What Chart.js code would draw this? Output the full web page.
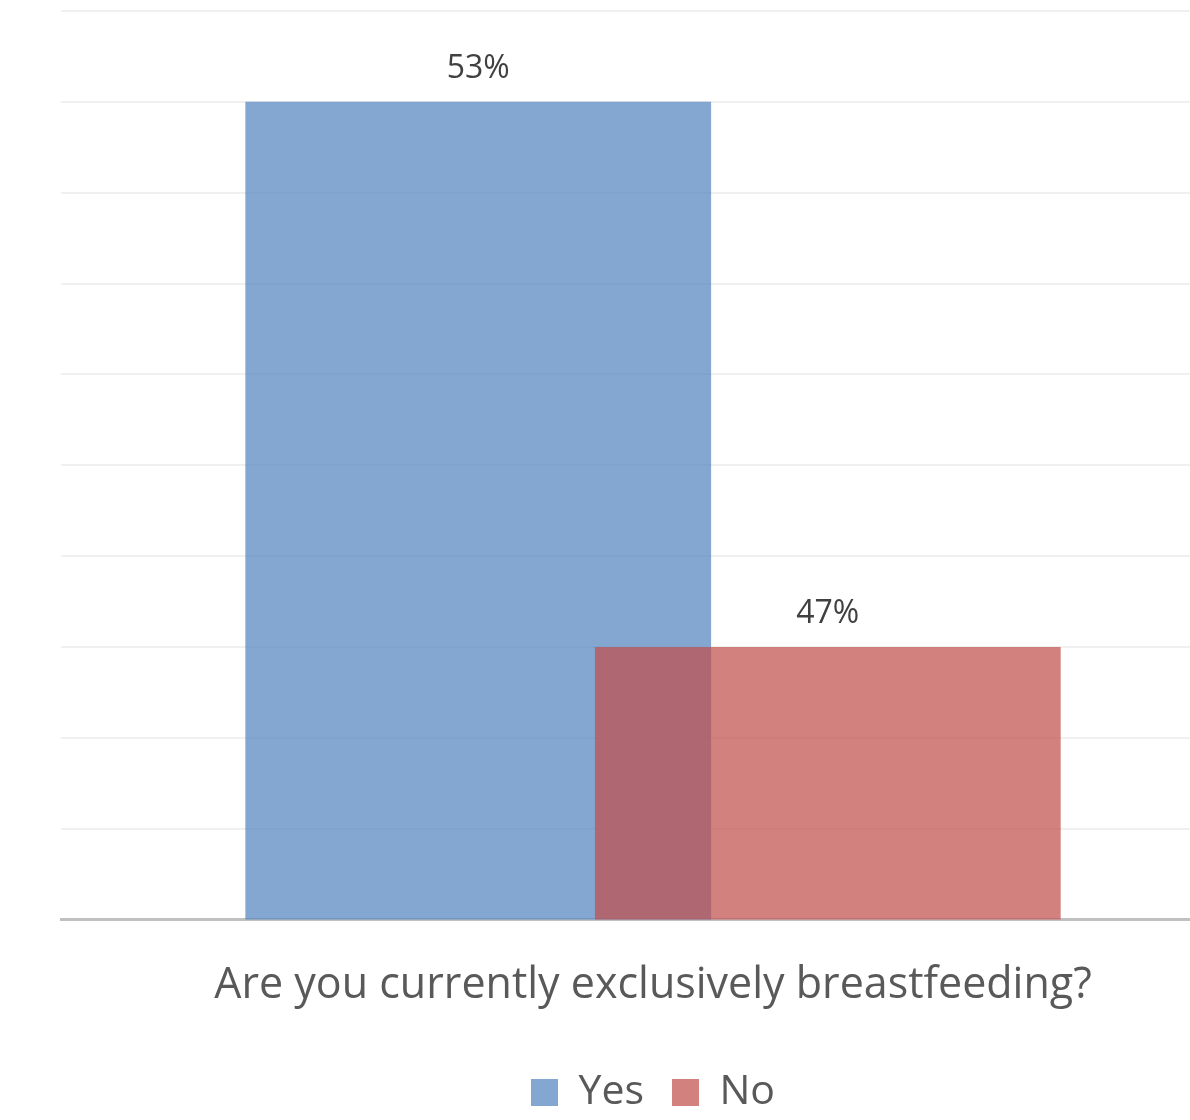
<!DOCTYPE html>
<html>
<head>
<meta charset="utf-8">
<script src="https://cdn.jsdelivr.net/npm/chart.js@4/dist/chart.umd.min.js"></script>
<style>
  html, body { margin: 0; padding: 0; background: #fff; overflow: hidden; }
  #wrap { width: 1306px; height: 1120px; }
</style>
</head>
<body>
<div id="wrap"><canvas id="c" width="1306" height="1120"></canvas></div>
<script>
const categories = ['Are you currently exclusively breastfeeding?'];
const seriesNames = ['Yes', 'No'];
const yesValues = [53];
const noValues = [47];
const yMin = 44;
const yMax = 54;

const FONT = '"Open Sans", "Noto Sans", sans-serif';

// draw the "No" dataset on top of "Yes" (Excel overlap style)
const drawOnTop = {
  id: 'drawOnTop',
  beforeDatasetDraw(chart, args) {
    if (args.index === 1) return false;
  },
  afterDatasetsDraw(chart) {
    const meta = chart.getDatasetMeta(1);
    if (!meta.hidden) {
      const ctx = chart.ctx, a = chart.chartArea;
      ctx.save();
      ctx.beginPath();
      ctx.rect(a.left, a.top, a.right - a.left, a.bottom - a.top);
      ctx.clip();
      meta.controller.draw();
      ctx.restore();
    }
  }
};

const valueLabels = {
  id: 'valueLabels',
  afterDatasetsDraw(chart) {
    const ctx = chart.ctx;
    ctx.save();
    ctx.font = '32px ' + FONT;
    ctx.fillStyle = '#404040';
    ctx.textAlign = 'center';
    ctx.textBaseline = 'bottom';
    chart.data.datasets.forEach((ds, i) => {
      const meta = chart.getDatasetMeta(i);
      if (meta.hidden) return;
      meta.data.forEach((bar, j) => {
        ctx.fillText(ds.data[j] + '%', bar.x, bar.y - 17);
      });
    });
    ctx.restore();
  }
};

new Chart(document.getElementById('c'), {
  type: 'bar',
  data: {
    labels: categories,
    datasets: [
      { label: seriesNames[0], data: yesValues, backgroundColor: 'rgba(79,129,189,0.7)' },
      { label: seriesNames[1], data: noValues, backgroundColor: 'rgba(192,80,77,0.72)' }
    ]
  },
  options: {
    responsive: false,
    animation: false,
    devicePixelRatio: 1,
    layout: { padding: { left: 61, right: 61, top: 11, bottom: -3 } },
    datasets: {
      bar: { categoryPercentage: 0.5905, barPercentage: 1.3324 }
    },
    scales: {
      x: {
        grid: { display: false },
        border: { color: '#C0C0C0', width: 3 },
        ticks: { color: '#595959', font: { family: FONT, size: 43, lineHeight: 1.64 }, padding: 23 }
      },
      y: {
        min: yMin, max: yMax,
        ticks: { display: false, stepSize: 1 },
        border: { display: false },
        grid: { color: '#F0F0F0', lineWidth: 2, drawTicks: false }
      }
    },
    plugins: {
      tooltip: { enabled: false },
      legend: {
        position: 'bottom',
        labels: {
          color: '#595959',
          font: { family: FONT, size: 41 },
          boxWidth: 27, boxHeight: 27,
          padding: 28
        }
      }
    }
  },
  plugins: [drawOnTop, valueLabels]
});
</script>
</body>
</html>
